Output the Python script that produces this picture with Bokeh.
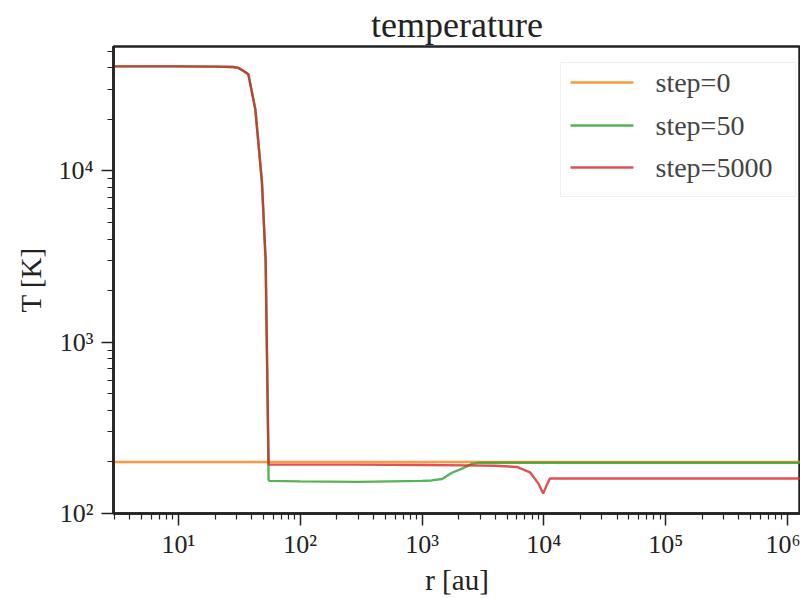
from bokeh.plotting import figure
from bokeh.models import Range1d, FixedTicker, CustomJSTickFormatter, BoxAnnotation, Label
from bokeh.embed import file_html
from bokeh.resources import INLINE

# ---- data ----
r_step0 = [3.0, 1.3e6]
T_step0 = [200, 200]

r_step50 = [3.0, 10, 20, 28, 31, 34, 37.5, 42.8, 48.5, 52, 55, 56, 100, 300, 1000, 1200, 1460, 1760, 2130, 2570, 2920, 1e5, 1.3e6]
T_step50 = [40800, 40800, 40700, 40500, 40000, 38500, 36700, 22900, 8600, 3000, 157, 155, 154, 153, 155, 156, 159, 173, 183, 195, 198, 198, 198]

r_step5000 = [3.0, 10, 20, 28, 31, 34, 37.5, 42.8, 48.5, 52, 55, 56, 300, 1000, 2300, 4000, 6000, 7700, 9000, 9870, 10500, 11200, 1e5, 1.3e6]
T_step5000 = [40800, 40800, 40700, 40500, 40000, 38500, 36700, 22900, 8600, 3000, 193, 193, 193, 192, 191, 190, 187, 174, 150, 131, 145, 160, 160, 160]

labels = ["step=0", "step=50", "step=5000"]
colors = ["#ff7f0e", "#2ca02c", "#d62728"]

x_decades = [1, 2, 3, 4, 5, 6]
y_decades = [2, 3, 4]

SERIF = "Liberation Serif"

p = figure(width=800, height=598, x_axis_type="log", y_axis_type="log",
           x_range=Range1d(10 ** 0.467, 10 ** 6.107),
           y_range=Range1d(100, 10 ** 4.727),
           output_backend="svg", toolbar_location=None,
           min_border_left=113, min_border_right=0, min_border_top=46, min_border_bottom=84,
           title="temperature")

p.background_fill_color = "white"
p.border_fill_color = "white"
p.grid.visible = False
p.outline_line_color = "#222222"
p.outline_line_width = 2.5

p.title.align = "center"
p.title.text_font = SERIF
p.title.text_font_size = "36px"
p.title.text_font_style = "normal"
p.title.text_color = "#222222"
p.title.standoff = 4

series = [(r_step0, T_step0), (r_step50, T_step50), (r_step5000, T_step5000)]
for (rr, tt), c in zip(series, colors):
    p.line(rr, tt, line_color=c, line_width=2.4, line_alpha=0.8)

def minor(decs):
    out = []
    for k in range(decs[0] - 2, decs[-1] + 2):
        for m in range(2, 10):
            out.append(m * 10.0 ** k)
    return out

p.xaxis.ticker = FixedTicker(ticks=[10.0 ** k for k in x_decades], minor_ticks=minor(x_decades))
p.yaxis.ticker = FixedTicker(ticks=[10.0 ** k for k in y_decades], minor_ticks=minor(y_decades))

fmt_code = """
const sup = {'0':'\u2070','1':'\u00b9','2':'\u00b2','3':'\u00b3','4':'\u2074','5':'\u2075','6':'\u2076','7':'\u2077','8':'\u2078','9':'\u2079','-':'\u207b'};
const e = Math.round(Math.log10(tick));
return '10' + String(e).split('').map(c => sup[c]).join('');
"""
for ax in (p.xaxis, p.yaxis):
    ax.formatter = CustomJSTickFormatter(code=fmt_code)
    ax.axis_line_color = "#222222"
    ax.axis_line_width = 2.5
    ax.major_tick_line_color = "#222222"
    ax.minor_tick_line_color = "#222222"
    ax.major_tick_line_width = 1.5
    ax.minor_tick_line_width = 1.2
    ax.major_tick_out = 12
    ax.major_tick_in = 0
    ax.minor_tick_out = 6
    ax.minor_tick_in = 0
    ax.major_label_text_font = SERIF
    ax.major_label_text_font_size = "26px"
    ax.major_label_text_color = "#222222"
    ax.axis_label_text_font = SERIF
    ax.axis_label_text_font_size = "29px"
    ax.axis_label_text_font_style = "normal"
    ax.axis_label_text_color = "#222222"

p.xaxis.axis_label = "r [au]"
p.yaxis.axis_label = "T [K]"
p.xaxis.major_label_standoff = 4
p.yaxis.major_label_standoff = 8
p.xaxis.axis_label_standoff = 2
p.yaxis.axis_label_standoff = 8

# ---- legend (drawn as annotations, positions in screen px relative to frame) ----
LEG_LEFT, LEG_RIGHT, LEG_BOTTOM, LEG_TOP = 447, 682, 317, 451
ROW_Y = [431, 388, 346]
GLYPH_X0, GLYPH_X1, TEXT_X = 457, 520, 542

# texts first (annotation level), box decorations afterwards (overlay level)
for lab, ry in zip(labels, ROW_Y):
    p.add_layout(Label(x=TEXT_X, y=ry - 15, x_units="screen", y_units="screen", text=lab,
                       text_font=SERIF, text_font_size="28px", level="annotation"))

p.add_layout(BoxAnnotation(left=LEG_LEFT, right=LEG_RIGHT, bottom=LEG_BOTTOM, top=LEG_TOP,
                           left_units="screen", right_units="screen",
                           bottom_units="screen", top_units="screen",
                           fill_alpha=0, line_color="#cccccc", line_width=1, level="overlay"))
for c, ry in zip(colors, ROW_Y):
    p.add_layout(BoxAnnotation(left=GLYPH_X0, right=GLYPH_X1, bottom=ry - 1.2, top=ry + 1.2,
                               left_units="screen", right_units="screen",
                               bottom_units="screen", top_units="screen",
                               fill_color=c, fill_alpha=0.8, line_alpha=0, level="overlay"))

open("out.html", "w").write(file_html(p, INLINE))
